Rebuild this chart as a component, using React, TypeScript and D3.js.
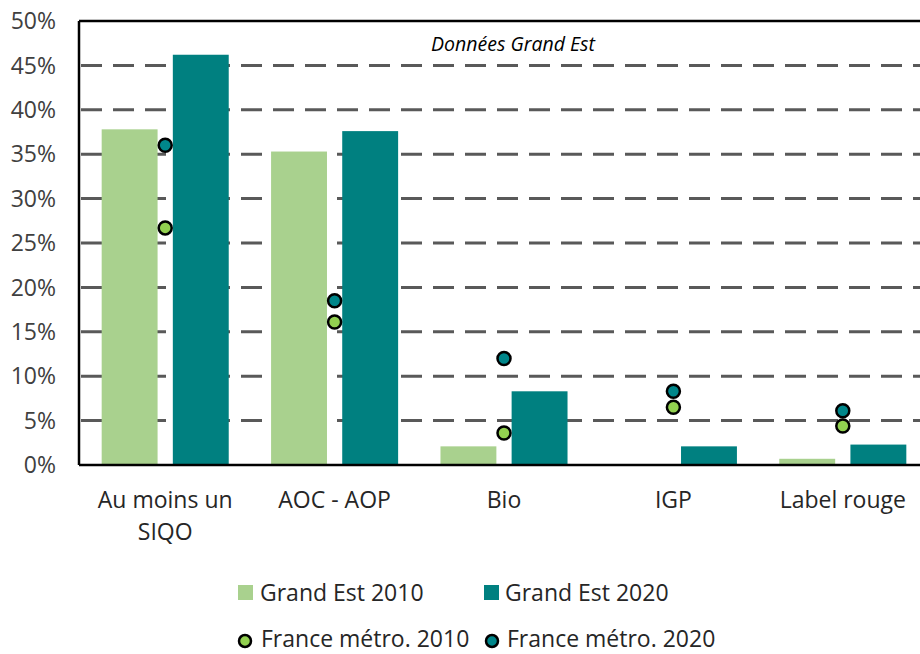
import React from "react";
import * as d3 from "d3";

const categories = ["Au moins un SIQO", "AOC - AOP", "Bio", "IGP", "Label rouge"];
const categoryLines = [["Au moins un", "SIQO"], ["AOC - AOP"], ["Bio"], ["IGP"], ["Label rouge"]];
const grandEst2010 = [37.8, 35.3, 2.1, 0, 0.7];
const grandEst2020 = [46.2, 37.6, 8.3, 2.1, 2.3];
const france2010 = [26.7, 16.1, 3.6, 6.5, 4.4];
const france2020 = [36.0, 18.5, 12.0, 8.3, 6.1];
const yTicks = [0, 5, 10, 15, 20, 25, 30, 35, 40, 45, 50];

const W = 920, H = 654;
const left = 79, right = 926, top = 21, bottom = 465;
const FONT = "'Open Sans', Lato, sans-serif";
const FS = 23;
const C_LIGHT = "#A9D18E", C_DARK = "#008080", M_LIGHT = "#92D050", M_DARK = "#00868A";

export default function App() {
  const x = d3.scaleBand<string>().domain(categories).range([left, right]).paddingInner(0).paddingOuter(0);
  const y = d3.scaleLinear().domain([0, 50]).range([bottom, top]);
  const bw = x.bandwidth();
  const barW = bw * 0.33;
  const gap = bw * 0.09;
  const center = (c: string) => (x(c) as number) + bw / 2 + 1.5;
  return (
    <svg width={W} height={H} style={{ position: "absolute", left: 0, top: 0, background: "#fff" }} fontFamily={FONT}>
      {yTicks.filter(t => t > 0 && t < 50).map(t => (
        <line key={t} x1={left} x2={right} y1={y(t)} y2={y(t)} stroke="#595959" strokeWidth={3} strokeDasharray="21 11" strokeDashoffset={-2} />
      ))}
      {yTicks.map(t => (
        <text key={t} x={56} y={y(t)} dy="0.36em" textAnchor="end" fontSize={FS} fill="#404040">{t}%</text>
      ))}
      {categories.map((c, i) => {
        const cx = center(c);
        return (
          <g key={c}>
            {grandEst2010[i] > 0 && (
              <rect x={cx - gap / 2 - barW} y={y(grandEst2010[i])} width={barW} height={bottom - y(grandEst2010[i])} fill={C_LIGHT} />
            )}
            <rect x={cx + gap / 2} y={y(grandEst2020[i])} width={barW} height={bottom - y(grandEst2020[i])} fill={C_DARK} />
          </g>
        );
      })}
      <line x1={left} x2={right} y1={top} y2={top} stroke="#000" strokeWidth={2.5} />
      <line x1={left} x2={left} y1={top} y2={bottom} stroke="#000" strokeWidth={2.5} />
      <line x1={left} x2={right} y1={bottom} y2={bottom} stroke="#000" strokeWidth={2.5} />
      {categories.map((c, i) => {
        const cx = center(c);
        return (
          <g key={c + "m"}>
            <circle cx={cx} cy={y(france2010[i])} r={6.5} fill={M_LIGHT} stroke="#000" strokeWidth={2.5} />
            <circle cx={cx} cy={y(france2020[i])} r={6.5} fill={M_DARK} stroke="#000" strokeWidth={2.5} />
          </g>
        );
      })}
      {categories.map((c, i) => {
        const cx = center(c);
        return (
          <text key={c + "l"} x={cx} textAnchor="middle" fontSize={FS} fill="#262626">
            {categoryLines[i].map((l, j) => (
              <tspan key={j} x={cx} y={508 + j * 32}>{l}</tspan>
            ))}
          </text>
        );
      })}
      <text x={513} y={51} textAnchor="middle" fontSize={19.5} fontStyle="italic" fill="#000">Données Grand Est</text>
      <rect x={238} y={585} width={15} height={15} fill={C_LIGHT} />
      <text x={260} y={601} fontSize={FS} fill="#262626">Grand Est 2010</text>
      <rect x={484} y={585} width={15} height={15} fill={C_DARK} />
      <text x={505} y={601} fontSize={FS} fill="#262626">Grand Est 2020</text>
      <circle cx={245} cy={641} r={6} fill={M_LIGHT} stroke="#000" strokeWidth={2.5} />
      <text x={261} y={647} fontSize={FS} fill="#262626">France métro. 2010</text>
      <circle cx={492} cy={641} r={6} fill={M_DARK} stroke="#000" strokeWidth={2.5} />
      <text x={507} y={647} fontSize={FS} fill="#262626">France métro. 2020</text>
    </svg>
  );
}
